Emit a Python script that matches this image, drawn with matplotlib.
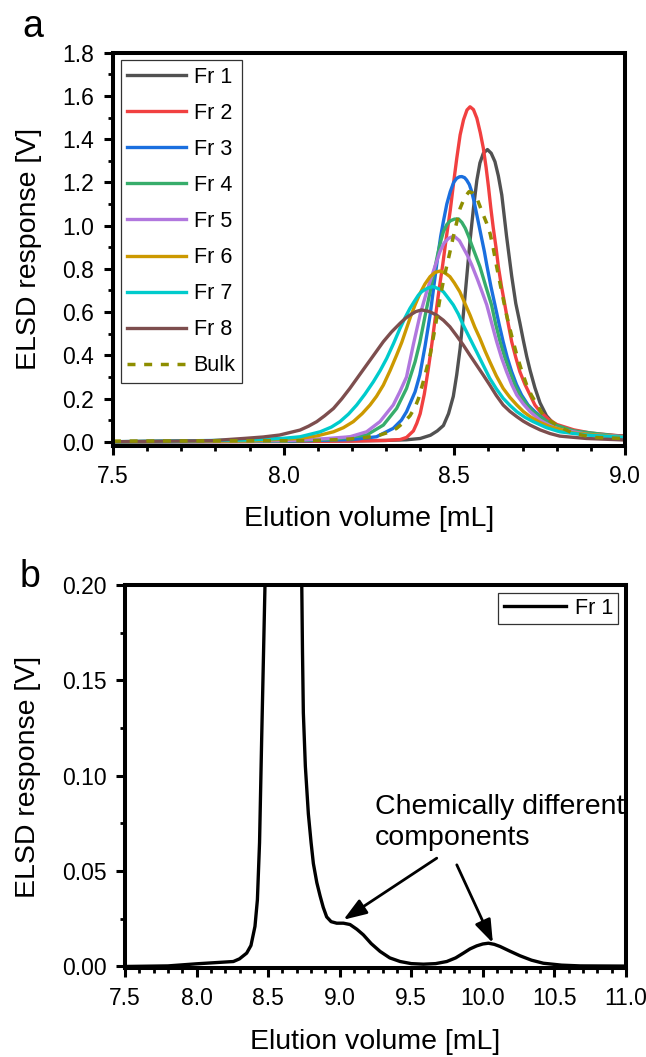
import matplotlib
matplotlib.use("Agg")
import matplotlib.pyplot as plt
from matplotlib.ticker import MultipleLocator, FormatStrFormatter

plt.rcParams['font.family'] = ['Liberation Sans', 'DejaVu Sans']

# ---- panel a: ELSD traces of the fractions ----
fr1_x = [7.5, 8.0, 8.2, 8.3, 8.36, 8.40, 8.43, 8.45, 8.468, 8.483, 8.497, 8.507, 8.517, 8.527, 8.536,
         8.546, 8.556, 8.566, 8.575, 8.585, 8.597, 8.608, 8.619, 8.629, 8.639, 8.653, 8.668, 8.68,
         8.692, 8.702, 8.712, 8.722, 8.736, 8.751, 8.77, 8.79, 8.815, 8.839, 8.87, 8.9, 8.95, 9.0]
fr1_y = [0.0, 0.002, 0.004, 0.006, 0.009, 0.015, 0.03, 0.05, 0.075, 0.13, 0.21, 0.31, 0.432, 0.6, 0.756,
         0.93, 1.08, 1.21, 1.29, 1.335, 1.352, 1.335, 1.296, 1.23, 1.142, 0.951, 0.767, 0.64,
         0.55, 0.47, 0.395, 0.33, 0.25, 0.18, 0.12, 0.085, 0.062, 0.048, 0.04, 0.034, 0.03, 0.026]

fr2_x = [7.5, 8.0, 8.2, 8.3, 8.341, 8.36, 8.38, 8.39, 8.40, 8.412, 8.424, 8.434, 8.443, 8.455, 8.466,
         8.477, 8.488, 8.498, 8.507, 8.517, 8.527, 8.537, 8.546, 8.556, 8.566, 8.576, 8.585, 8.593,
         8.600, 8.607, 8.614, 8.622, 8.629, 8.638, 8.648, 8.658, 8.668, 8.68, 8.692, 8.707, 8.722,
         8.736, 8.751, 8.775, 8.8, 8.85, 8.9, 9.0]
fr2_y = [0.0, 0.001, 0.003, 0.006, 0.01, 0.02, 0.05, 0.085, 0.13, 0.22, 0.34, 0.45, 0.56, 0.70, 0.82,
         0.95, 1.07, 1.2, 1.31, 1.42, 1.49, 1.535, 1.55, 1.537, 1.497, 1.43, 1.358, 1.27,
         1.18, 1.08, 0.99, 0.9, 0.81, 0.72, 0.633, 0.545, 0.463, 0.39, 0.324, 0.265, 0.216,
         0.17, 0.14, 0.105, 0.08, 0.055, 0.04, 0.025]

fr3_x = [7.5, 8.0, 8.2, 8.272, 8.321, 8.345, 8.36, 8.385, 8.399, 8.414, 8.429, 8.44, 8.45, 8.46, 8.468,
         8.478, 8.488, 8.498, 8.507, 8.515, 8.522, 8.53, 8.536, 8.544, 8.551, 8.558, 8.566, 8.573,
         8.58, 8.588, 8.595, 8.607, 8.619, 8.631, 8.643, 8.655, 8.668, 8.682, 8.697, 8.716, 8.736,
         8.77, 8.8, 8.85, 8.9, 9.0]
fr3_y = [0.0, 0.002, 0.01, 0.023, 0.062, 0.1, 0.139, 0.231, 0.31, 0.44, 0.586, 0.72, 0.84, 0.95, 1.02,
         1.1, 1.157, 1.2, 1.219, 1.226, 1.227, 1.222, 1.211, 1.19, 1.157, 1.11, 1.049, 0.995,
         0.941, 0.88, 0.818, 0.72, 0.633, 0.545, 0.463, 0.39, 0.324, 0.265, 0.216, 0.17, 0.139,
         0.095, 0.07, 0.048, 0.035, 0.022]

fr4_x = [7.5, 8.0, 8.15, 8.243, 8.292, 8.331, 8.36, 8.385, 8.399, 8.414, 8.429, 8.44, 8.449, 8.458,
         8.468, 8.478, 8.488, 8.5, 8.512, 8.522, 8.532, 8.542, 8.551, 8.563, 8.575, 8.592, 8.609,
         8.621, 8.634, 8.648, 8.663, 8.677, 8.692, 8.711, 8.731, 8.78, 8.85, 9.0]
fr4_y = [0.0, 0.003, 0.012, 0.031, 0.077, 0.154, 0.247, 0.37, 0.46, 0.58, 0.694, 0.78, 0.85, 0.915,
         0.972, 1.005, 1.022, 1.03, 1.031, 1.015, 0.988, 0.95, 0.91, 0.86, 0.81, 0.72, 0.633,
         0.545, 0.463, 0.39, 0.324, 0.265, 0.216, 0.175, 0.139, 0.085, 0.05, 0.022]

fr5_x = [7.5, 8.0, 8.048, 8.12, 8.194, 8.243, 8.282, 8.321, 8.34, 8.36, 8.38, 8.40, 8.42, 8.441, 8.458,
         8.47, 8.483, 8.493, 8.502, 8.515, 8.527, 8.539, 8.551, 8.568, 8.582, 8.595, 8.61, 8.624,
         8.638, 8.653, 8.668, 8.683, 8.702, 8.722, 8.751, 8.78, 8.809, 8.887, 9.0]
fr5_y = [0.0, 0.005, 0.008, 0.014, 0.023, 0.046, 0.093, 0.170, 0.23, 0.30, 0.45, 0.59, 0.70, 0.80, 0.88,
         0.92, 0.941, 0.948, 0.948, 0.93, 0.895, 0.86, 0.818, 0.75, 0.69, 0.633, 0.545, 0.463,
         0.39, 0.324, 0.265, 0.216, 0.175, 0.139, 0.10, 0.075, 0.057, 0.035, 0.022]

fr6_x = [7.5, 7.9, 8.048, 8.1, 8.146, 8.175, 8.204, 8.23, 8.253, 8.272, 8.292, 8.312, 8.331, 8.346,
         8.36, 8.372, 8.385, 8.399, 8.414, 8.429, 8.443, 8.458, 8.472, 8.487, 8.5, 8.516, 8.531,
         8.546, 8.56, 8.575, 8.59, 8.604, 8.623, 8.643, 8.663, 8.683, 8.702, 8.722, 8.75, 8.78,
         8.85, 9.0]
fr6_y = [0.0, 0.004, 0.015, 0.028, 0.046, 0.065, 0.093, 0.13, 0.170, 0.21, 0.262, 0.33, 0.401, 0.46,
         0.525, 0.58, 0.633, 0.685, 0.73, 0.764, 0.783, 0.790, 0.782, 0.764, 0.735, 0.694, 0.64,
         0.586, 0.53, 0.478, 0.42, 0.370, 0.305, 0.247, 0.205, 0.170, 0.14, 0.116, 0.09, 0.07,
         0.04, 0.02]

fr7_x = [7.5, 7.9, 8.0, 8.048, 8.107, 8.14, 8.165, 8.19, 8.214, 8.238, 8.263, 8.283, 8.302, 8.322,
         8.341, 8.356, 8.370, 8.383, 8.395, 8.405, 8.415, 8.427, 8.438, 8.45, 8.458, 8.468, 8.482,
         8.497, 8.512, 8.526, 8.545, 8.565, 8.585, 8.604, 8.623, 8.643, 8.663, 8.683, 8.707, 8.731,
         8.77, 8.809, 8.887, 9.0]
fr7_y = [0.0, 0.008, 0.016, 0.023, 0.046, 0.068, 0.093, 0.128, 0.170, 0.22, 0.278, 0.33, 0.386, 0.455,
         0.525, 0.575, 0.617, 0.65, 0.679, 0.695, 0.705, 0.714, 0.718, 0.71, 0.705, 0.694, 0.665,
         0.633, 0.59, 0.540, 0.48, 0.417, 0.353, 0.293, 0.245, 0.201, 0.168, 0.139, 0.113, 0.093,
         0.065, 0.046, 0.031, 0.02]

fr8_x = [7.5, 7.79, 7.89, 7.94, 7.988, 8.048, 8.073, 8.097, 8.12, 8.146, 8.17, 8.194, 8.218, 8.243,
         8.268, 8.292, 8.316, 8.341, 8.356, 8.370, 8.387, 8.404, 8.426, 8.448, 8.468, 8.487, 8.506,
         8.526, 8.545, 8.565, 8.585, 8.604, 8.623, 8.643, 8.663, 8.683, 8.702, 8.722, 8.751, 8.78,
         8.809, 8.887, 9.0]
fr8_y = [0.0, 0.005, 0.016, 0.022, 0.031, 0.054, 0.072, 0.093, 0.12, 0.154, 0.198, 0.247, 0.30, 0.355,
         0.41, 0.463, 0.508, 0.548, 0.57, 0.586, 0.602, 0.610, 0.603, 0.586, 0.562, 0.532, 0.492,
         0.448, 0.402, 0.355, 0.308, 0.262, 0.214, 0.170, 0.14, 0.116, 0.095, 0.077, 0.055, 0.038,
         0.026, 0.015, 0.008]

bulk_x = [7.5, 8.077, 8.18, 8.234, 8.282, 8.31, 8.331, 8.352, 8.370, 8.385, 8.395, 8.409, 8.429, 8.444,
          8.458, 8.47, 8.483, 8.5, 8.517, 8.53, 8.543, 8.555, 8.566, 8.575, 8.585, 8.595, 8.605,
          8.614, 8.624, 8.638, 8.653, 8.668, 8.683, 8.697, 8.712, 8.726, 8.741, 8.76, 8.78, 8.8,
          8.825, 8.848, 8.907, 9.0]
bulk_y = [0.003, 0.005, 0.011, 0.018, 0.031, 0.045, 0.062, 0.09, 0.12, 0.16, 0.2, 0.278, 0.401, 0.53,
          0.664, 0.76, 0.849, 0.97, 1.080, 1.13, 1.157, 1.15, 1.127, 1.09, 1.049, 1.01, 0.962,
          0.895, 0.810, 0.70, 0.586, 0.49, 0.401, 0.33, 0.262, 0.215, 0.175, 0.123, 0.097, 0.077,
          0.056, 0.039, 0.02, 0.015]

# ---- panel b: Fr 1 zoomed on the baseline ----
b_x = [7.5, 7.8, 8.0, 8.257, 8.3, 8.35, 8.38, 8.408, 8.425, 8.44, 8.455, 8.468, 8.478, 8.52, 8.56,
       8.6, 8.65, 8.70, 8.735, 8.74, 8.746, 8.76, 8.781, 8.80, 8.816, 8.84, 8.863, 8.885, 8.909,
       8.94, 8.979, 9.026, 9.072, 9.12, 9.165, 9.22, 9.282, 9.35, 9.422, 9.5, 9.585, 9.67, 9.748,
       9.81, 9.864, 9.91, 9.957, 10.0, 10.039, 10.08, 10.12, 10.19, 10.26, 10.34, 10.423, 10.55,
       10.68, 11.0]
b_y = [0.0, 0.0003, 0.0014, 0.0026, 0.004, 0.007, 0.011, 0.021, 0.035, 0.065, 0.12, 0.165, 0.2, 0.6,
       1.2, 1.35, 1.0, 0.4, 0.2, 0.165, 0.133, 0.105, 0.080, 0.065, 0.054, 0.044, 0.037, 0.031,
       0.026, 0.0235, 0.0227, 0.0227, 0.022, 0.0195, 0.0166, 0.012, 0.0079, 0.0045, 0.0026, 0.0015,
       0.0012, 0.0015, 0.0026, 0.0045, 0.0070, 0.0092, 0.0108, 0.0118, 0.0122, 0.0116, 0.0105,
       0.0080, 0.0056, 0.0033, 0.0017, 0.0007, 0.0003, 0.0002]

labels = ['Fr 1', 'Fr 2', 'Fr 3', 'Fr 4', 'Fr 5', 'Fr 6', 'Fr 7', 'Fr 8']
colors = ['#515151', '#F14040', '#1A6FDF', '#37AD6B', '#B177DE', '#CC9900', '#00CBCC', '#7D4E4E']
xs = [fr1_x, fr2_x, fr3_x, fr4_x, fr5_x, fr6_x, fr7_x, fr8_x]
ys = [fr1_y, fr2_y, fr3_y, fr4_y, fr5_y, fr6_y, fr7_y, fr8_y]


def style_axes(ax):
    for sp in ax.spines.values():
        sp.set_linewidth(2.9)
    ax.tick_params(which='both', direction='out', top=False, right=False, labelsize=16.5, pad=7)
    ax.tick_params(which='major', length=6.5, width=2.2)
    ax.tick_params(which='minor', length=3.5, width=2.0)


fig = plt.figure(figsize=(6.46, 10.57), dpi=100)

# panel a
ax1 = fig.add_axes([0.1749, 0.578, 0.7926, 0.3721])
for x, y, c, lab in zip(xs, ys, colors, labels):
    ax1.plot(x, y, color=c, lw=2.4, label=lab, solid_joinstyle='round')
ax1.plot(bulk_x, bulk_y, color='#8E8E00', lw=2.5, ls=(0, (2.3, 2.5)), label='Bulk')
ax1.set_xlim(7.5, 9.0)
ax1.set_ylim(-0.02, 1.8)
ax1.xaxis.set_major_locator(MultipleLocator(0.5))
ax1.xaxis.set_minor_locator(MultipleLocator(0.1))
ax1.yaxis.set_major_locator(MultipleLocator(0.2))
ax1.yaxis.set_minor_locator(MultipleLocator(0.1))
ax1.yaxis.set_major_formatter(FormatStrFormatter('%.1f'))
style_axes(ax1)
ax1.set_xlabel('Elution volume [mL]', fontsize=20.5, labelpad=13)
ax1.set_ylabel('ELSD response [V]', fontsize=20.5, labelpad=15)
leg = ax1.legend(loc='upper left', fontsize=15.5, frameon=True, fancybox=False, framealpha=1,
                 edgecolor='#333333', handlelength=2.75, handletextpad=0.35, labelspacing=0.7,
                 borderpad=0.3, borderaxespad=0.35)
leg.get_frame().set_linewidth(0.9)
fig.text(0.051, 0.974, 'a', fontsize=27, ha='center', va='center')

# panel b
ax2 = fig.add_axes([0.1935, 0.0842, 0.7755, 0.3623])
ax2.plot(b_x, b_y, color='black', lw=2.4, label='Fr 1', solid_joinstyle='round')
ax2.set_xlim(7.5, 11.0)
ax2.set_ylim(-0.0008, 0.2)
ax2.xaxis.set_major_locator(MultipleLocator(0.5))
ax2.xaxis.set_minor_locator(MultipleLocator(0.1))
ax2.yaxis.set_major_locator(MultipleLocator(0.05))
ax2.yaxis.set_minor_locator(MultipleLocator(0.025))
ax2.yaxis.set_major_formatter(FormatStrFormatter('%.2f'))
style_axes(ax2)
ax2.set_xlabel('Elution volume [mL]', fontsize=20.5, labelpad=14)
ax2.set_ylabel('ELSD response [V]', fontsize=20.5, labelpad=15)
leg2 = ax2.legend(loc='upper right', fontsize=15.5, frameon=True, fancybox=False, framealpha=1,
                  edgecolor='#333333', handlelength=2.9, handletextpad=0.4, borderpad=0.25,
                  borderaxespad=0.35)
leg2.get_frame().set_linewidth(0.9)

ax2.text(9.247, 0.0905, 'Chemically different\ncomponents', fontsize=20.5, ha='left', va='top',
         linespacing=1.25)
arrow = dict(arrowstyle='-|>,head_length=1.4,head_width=0.5', color='black', lw=2.0,
             shrinkA=0, shrinkB=0)
ax2.annotate('', xy=(9.026, 0.0245), xytext=(9.678, 0.0568), arrowprops=arrow)
ax2.annotate('', xy=(10.07, 0.0123), xytext=(9.818, 0.0533), arrowprops=arrow)
fig.text(0.046, 0.454, 'b', fontsize=27, ha='center', va='center')

fig.savefig('out.png', dpi=100)
